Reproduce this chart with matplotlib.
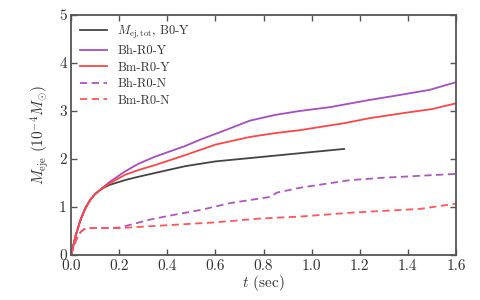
import matplotlib
matplotlib.use("Agg")
import matplotlib.pyplot as plt
import numpy as np

plt.rcParams['font.family'] = ['cmr10', 'DejaVu Serif']
plt.rcParams['mathtext.fontset'] = 'cm'
plt.rcParams['axes.formatter.use_mathtext'] = True

labels = [r'$M_{\rm ej,tot}$, B0-Y', 'Bh-R0-Y', 'Bm-R0-Y', 'Bh-R0-N', 'Bm-R0-N']

t_b0y = [0.0, 0.02, 0.04, 0.06, 0.08, 0.1, 0.128, 0.16, 0.224, 0.28, 0.35, 0.474, 0.6, 0.786, 0.95, 1.135]
m_b0y = [0.0, 0.42, 0.74, 0.98, 1.15, 1.27, 1.38, 1.46, 1.56, 1.63, 1.71, 1.85, 1.95, 2.04, 2.12, 2.21]

t_bhy = [0.0, 0.02, 0.04, 0.06, 0.08, 0.1, 0.128, 0.16, 0.224, 0.28, 0.35, 0.474, 0.54, 0.62, 0.744, 0.85, 0.95, 1.076, 1.24, 1.35, 1.49, 1.6]
m_bhy = [0.0, 0.42, 0.74, 0.98, 1.15, 1.27, 1.39, 1.52, 1.74, 1.9, 2.05, 2.27, 2.41, 2.56, 2.8, 2.92, 3.0, 3.08, 3.23, 3.32, 3.44, 3.6]

t_bmy = [0.0, 0.02, 0.04, 0.06, 0.08, 0.1, 0.128, 0.16, 0.224, 0.28, 0.35, 0.474, 0.6, 0.744, 0.85, 0.95, 1.14, 1.24, 1.4, 1.5, 1.6]
m_bmy = [0.0, 0.42, 0.74, 0.98, 1.15, 1.27, 1.38, 1.49, 1.67, 1.77, 1.875, 2.08, 2.3, 2.46, 2.54, 2.6, 2.75, 2.85, 2.97, 3.04, 3.16]

t_bhn = [0.0, 0.02, 0.04, 0.055, 0.07, 0.1, 0.2, 0.33, 0.41, 0.54, 0.66, 0.827, 0.856, 0.95, 1.16, 1.3, 1.45, 1.6]
m_bhn = [0.0, 0.3, 0.48, 0.54, 0.56, 0.56, 0.57, 0.74, 0.82, 0.94, 1.08, 1.21, 1.3, 1.4, 1.56, 1.61, 1.65, 1.69]

t_bmn = [0.0, 0.02, 0.04, 0.055, 0.07, 0.1, 0.2, 0.33, 0.6, 0.786, 0.95, 1.16, 1.3, 1.45, 1.6]
m_bmn = [0.0, 0.3, 0.48, 0.54, 0.56, 0.56, 0.56, 0.6, 0.68, 0.76, 0.8, 0.88, 0.92, 0.96, 1.07]

colors = ['#444444', '#a64dbf', '#ff4444', '#b054c4', '#ff5555']

fig = plt.figure(figsize=(4.8, 3.0), dpi=100)
ax = fig.add_axes([0.148, 0.15, 0.802, 0.80])

ax.plot(t_b0y, m_b0y, color=colors[0], lw=1.3, label=labels[0])
ax.plot(t_bhy, m_bhy, color=colors[1], lw=1.3, label=labels[1])
ax.plot(t_bmy, m_bmy, color=colors[2], lw=1.3, label=labels[2])
ax.plot(t_bhn, m_bhn, color=colors[3], lw=1.3, ls=(0, (4, 2.5)), label=labels[3])
ax.plot(t_bmn, m_bmn, color=colors[4], lw=1.3, ls=(0, (4, 2.5)), label=labels[4])

ax.set_xlim(0, 1.6)
ax.set_ylim(0, 5)
ax.set_xticks(np.arange(0, 1.61, 0.2))
ax.set_xticklabels([f'{v:.1f}' for v in np.arange(0, 1.61, 0.2)])
ax.set_yticks(range(6))
ax.set_yticklabels([str(i) for i in range(6)])
ax.tick_params(direction='in', top=True, right=True, length=4, width=1.0,
               color='#555555', labelsize=11, pad=3, labelcolor='#333333')
ax.tick_params(axis='x', pad=3)
for s in ax.spines.values():
    s.set_color('#555555')
    s.set_linewidth(1.3)

ax.set_xlabel(r'$t$ (sec)', fontsize=11, labelpad=0, color='#333333')
ax.set_ylabel(r'$M_{\rm eje}\ (10^{-4} M_{\odot})$', fontsize=11, labelpad=6, color='#333333')

leg = ax.legend(loc='upper left', frameon=False, fontsize=9, handlelength=2.2,
                labelspacing=0.35, borderaxespad=0.3)
for txt in leg.get_texts():
    txt.set_color('#333333')

fig.savefig('out.png', dpi=100)
